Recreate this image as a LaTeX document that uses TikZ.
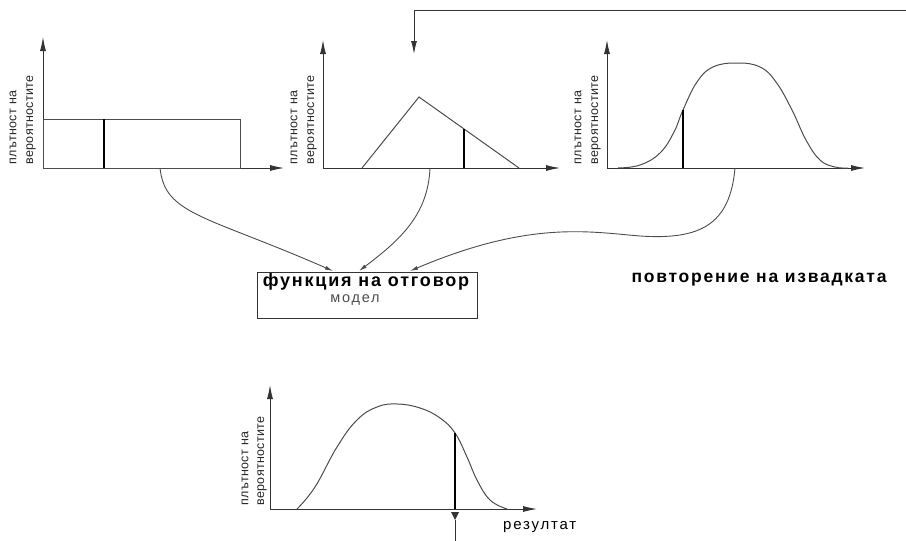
\documentclass[tikz,border=0pt]{standalone}
\usepackage{fontspec}
\setmainfont{Liberation Sans}
\newfontfamily\lblfont{Liberation Sans}[LetterSpace=3]
\newfontfamily\headfont{Liberation Sans}[LetterSpace=10]
\newfontfamily\smallfont{Liberation Sans}[LetterSpace=12]
\usetikzlibrary{arrows.meta}

\begin{document}
\begin{tikzpicture}[x=1pt,y=-1pt,>={Latex[length=8pt,width=4pt]},
  axis/.style={-{Latex[length=14pt,width=6pt]},line width=0.9pt,black!80},
  shp/.style={line width=1pt,black!70},
  cut/.style={line width=2pt,black},
  link/.style={->,line width=0.9pt,black!70},
  ylab/.style={rotate=90,anchor=west,inner sep=0pt,black!85,
    font=\lblfont\fontsize{12.5}{14}\selectfont}]
\useasboundingbox (0,0) rectangle (906,541);

\draw[axis] (43,168) -- (43,37);
\draw[axis] (43,168) -- (284,168);
\draw[shp] (43,119) rectangle (240,168);
\draw[cut] (104,119) -- (104,168);
\node[ylab] (a1) at (13,165) {плътност на};
\node[ylab] (b1) at (31,165) {вероятностите};

\draw[axis] (323,168) -- (323,40);
\draw[axis] (323,168) -- (560,168);
\draw[shp] (362,168) -- (419,97) -- (519,168);
\draw[cut] (464,129) -- (464,168);
\node[ylab] (a2) at (294,165) {плътност на};
\node[ylab] (b2) at (312,165) {вероятностите};

\draw[axis] (607,168) -- (607,40);
\draw[axis] (607,168) -- (865,168);
\draw[shp] plot[smooth,tension=0.7] coordinates {(618,168) (640,165) (660,153) (674,132) (683,110)
  (697,82) (713,67) (737,63) (760,67) (776,82) (792,110) (806,140) (820,160) (835,167) (848,168)};
\draw[cut] (683,110) -- (683,168);
\node[ylab] (a3) at (578,165) {плътност на};
\node[ylab] (b3) at (596,165) {вероятностите};

\coordinate (fb) at (906,10);
\coordinate (fc) at (414,10);
\coordinate (fd) at (414,54);
\draw[-{Latex[length=13pt,width=6pt]},line width=0.9pt,black!80] (fb) -- (fc) -- (fd);

\node[draw,line width=0.8pt,black!80,minimum width=220pt,minimum height=46pt,inner sep=0pt] (F) at (367,295) {};
\node[font=\headfont\bfseries\fontsize{18}{20}\selectfont] (Fh) at (366,282) {функция на отговор};
\node[font=\smallfont\fontsize{14.5}{16}\selectfont,black!70] (Fm) at (355,300) {модел};
\node[font=\headfont\bfseries\fontsize{17.5}{20}\selectfont] (R) at (759,280) {повторение на извадката};

\coordinate (s1) at (160,168);
\coordinate (s2) at (430,168);
\coordinate (s3) at (735,168);
\coordinate (e1) at (333,271);
\coordinate (e2) at (359,271);
\coordinate (e3) at (410,271);
\draw[link] (s1) .. controls (165,215) and (205,215) .. (e1);
\draw[link] (s2) .. controls (428,215) and (400,240) .. (e2);
\draw[link] (s3) .. controls (730,225) and (700,240) .. (640,236) .. controls (590,232) and (530,220) .. (e3);

\draw[axis] (270,509) -- (270,385);
\draw[axis] (270,509) -- (537,509);
\draw[shp] plot[smooth,tension=0.7] coordinates {(297,509) (315,487) (337,447) (357,420) (377,407)
  (397,404) (420,408) (440,418) (455,433) (467,457) (477,480) (490,500) (507,509)};
\draw[cut] (455,433) -- (455,509);
\node[ylab] (a4) at (245,506) {плътност на};
\node[ylab] (b4) at (262,506) {вероятностите};
\coordinate (m1) at (455,541);
\coordinate (m2) at (455,520);
\draw[line width=0.9pt,black!80] (m1) -- (m2);
\fill[black!80] (451,512) -- (459,512) -- (m2) -- cycle;
\node[font=\smallfont\fontsize{15}{17}\selectfont,anchor=west,inner sep=0pt] (res) at (503,527) {резултат};
\end{tikzpicture}
\end{document}
